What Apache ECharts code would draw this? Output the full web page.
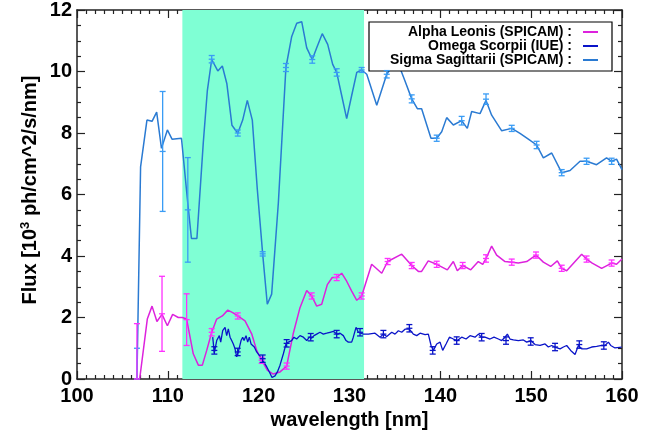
<!DOCTYPE html>
<html>
<head>
<meta charset="utf-8">
<script src="https://cdn.jsdelivr.net/npm/echarts@6/dist/echarts.min.js"></script>
<style>html,body{margin:0;padding:0;background:#fff}#c{width:660px;height:436px}</style>
</head>
<body>
<div id="c"></div>
<script>
// ---- data ----
const seriesNames = ['Alpha Leonis (SPICAM)', 'Omega Scorpii (IUE)', 'Sigma Sagittarii (SPICAM)'];
const xTicks = [100, 110, 120, 130, 140, 150, 160];
const yTicks = [0, 2, 4, 6, 8, 10, 12];
const shadeRange = [111.6, 131.6];

const sigmaWl = [106.6,107.0,107.7,108.26,108.77,109.3,109.95,110.46,111.5,111.6,112.26,112.6,113.2,113.9,114.35,114.83,115.5,116.0,116.5,117.06,117.7,118.24,118.75,119.3,119.85,120.44,120.95,121.43,122.17,123.0,123.64,124.19,124.74,125.29,125.9,126.39,127.0,127.6,128.15,128.59,129.14,129.69,130.24,130.8,131.34,131.9,133.0,134.1,135.2,136.1,136.85,137.47,137.94,138.97,139.6,140.15,140.7,141.43,142.35,142.97,143.45,144.37,145.03,145.65,146.76,147.86,148.77,149.69,150.6,151.34,152.26,153.36,154.28,155.38,156.1,157.2,158.3,158.86,159.4,160.0];
const sigmaFlux = [0,6.9,8.42,8.38,8.68,7.5,8.1,7.8,7.83,7.83,5.53,4.57,4.57,7.67,9.38,10.39,10.02,10.18,9.6,8.25,7.99,8.42,9.06,8.42,6.17,4.07,2.43,2.76,5.74,10.13,11.14,11.57,11.62,10.77,10.39,10.77,11.23,10.88,10.23,9.97,9.22,8.47,9.22,9.97,10.05,9.91,8.9,9.91,10.39,9.7,9.11,8.79,8.79,7.83,7.83,8.04,8.5,8.26,8.4,8.15,8.7,8.63,9.06,8.58,8.07,8.15,7.99,7.8,7.61,7.19,7.35,6.71,6.78,7.08,7.08,6.97,7.19,7.08,7.15,6.81];

const alphaWl = [106.9,107.74,108.26,108.8,109.36,109.95,110.53,111.15,111.6,112.07,112.8,113.36,113.8,114.28,114.83,115.38,116.0,116.6,117.14,117.7,118.5,119.23,119.78,120.33,120.95,121.6,122.35,123.08,123.8,124.55,125.29,125.84,126.39,126.94,127.56,128.1,128.59,129.14,129.69,130.24,130.8,131.34,132.44,133.55,134.2,135.75,136.85,137.58,137.94,138.67,139.6,140.77,141.43,141.87,142.46,143.35,144.18,144.67,145.03,145.65,146.2,147.12,147.86,148.59,149.51,150.53,151.34,152.15,152.88,153.36,153.91,155.56,156.1,156.72,157.76,158.86,159.4,160.0];
const alphaFlux = [0,1.95,2.37,1.87,2.1,1.73,2.1,2.0,2.0,1.95,0.82,0.45,0.45,0.93,1.52,1.95,2.05,2.24,2.16,2.05,1.89,1.47,0.93,0.61,0.29,0.16,0.23,0.42,1.47,2.32,2.88,2.7,2.37,2.43,3.07,3.3,3.3,3.44,3.18,2.86,2.56,2.7,3.73,3.44,3.82,4.06,3.69,3.5,3.5,3.84,3.73,3.55,3.82,3.52,3.69,3.55,3.82,3.73,3.92,4.32,4.03,3.82,3.8,3.77,3.82,4.03,3.8,3.66,3.84,3.6,3.52,4.06,3.9,3.77,3.6,3.77,3.73,3.9];

const omegaWl = [114.94,115.12,115.38,115.67,115.82,116.04,116.3,116.48,116.66,116.85,117.03,117.21,117.4,117.58,117.76,117.95,118.06,118.24,118.39,118.61,118.79,118.97,119.16,119.34,119.52,119.78,120.07,120.33,120.51,120.88,121.18,121.47,121.8,122.06,122.35,122.72,123.01,123.27,123.63,123.89,124.18,124.55,124.92,125.29,125.58,125.84,126.09,126.39,126.75,127.12,127.49,127.85,128.22,128.59,128.96,129.32,129.62,129.87,130.24,130.42,130.72,130.97,131.16,131.53,132.08,132.81,133.36,133.73,134.1,134.65,135.01,135.38,135.75,136.11,136.59,137.03,137.4,137.77,138.32,138.68,138.98,139.23,139.6,139.97,140.26,140.63,141.0,141.44,141.88,142.35,142.83,143.27,143.82,144.19,144.55,144.92,145.47,145.91,146.39,146.76,147.12,147.38,147.67,148.04,148.59,149.14,149.51,149.95,150.43,150.98,151.53,151.89,152.26,152.63,153.18,153.55,153.91,154.35,154.83,155.2,155.56,156.11,156.66,157.21,157.77,158.13,158.5,158.76,159.23,159.96];
const omegaFlux = [1.36,0.85,1.25,1.41,1.2,1.57,1.68,1.41,1.63,1.36,1.25,1.14,0.98,0.72,0.88,0.93,1.25,1.36,1.25,1.41,1.2,1.36,1.14,1.09,1.04,0.88,0.77,0.66,0.61,0.4,0.23,0.05,0.1,0.23,0.45,0.82,1.14,1.2,1.25,1.36,1.3,1.41,1.36,1.25,1.36,1.33,1.41,1.46,1.52,1.46,1.49,1.52,1.55,1.46,1.49,1.41,1.25,1.2,1.2,1.36,1.68,1.52,1.52,1.46,1.46,1.49,1.36,1.46,1.38,1.52,1.46,1.57,1.52,1.62,1.62,1.46,1.41,1.49,1.44,1.46,1.09,0.93,1.14,1.2,0.93,1.14,1.36,1.3,1.25,1.36,1.3,1.41,1.36,1.46,1.36,1.36,1.3,1.36,1.3,1.25,1.36,1.46,1.3,1.27,1.25,1.27,1.2,1.25,1.12,1.09,1.14,1.04,1.09,1.04,0.98,1.04,1.09,0.93,0.8,1.09,0.98,0.98,1.04,1.06,1.09,1.09,1.2,1.09,1.01,1.04];

// error bars: wavelength, value, error
const sigmaErrWl  = [106.6,109.43,112.2,114.83,117.7,120.44,123.0,125.9,128.59,131.34,134.1,136.85,139.6,142.35,145.03,147.86,150.6,153.36,156.1,158.86];
const sigmaErrVal = [0,7.4,5.5,10.4,8.0,4.07,10.13,10.39,9.97,10.05,9.91,9.11,7.83,8.4,9.1,8.15,7.61,6.71,7.08,7.08];
const sigmaErrErr = [1.0,1.95,1.7,0.12,0.1,0.07,0.13,0.12,0.12,0.08,0.12,0.13,0.1,0.14,0.17,0.1,0.12,0.1,0.1,0.1];

const alphaErrWl  = [106.6,109.36,112.07,114.83,117.7,120.33,123.08,125.84,128.59,131.34,134.2,136.85,139.6,142.46,145.03,147.86,150.53,153.36,156.1,158.86];
const alphaErrVal = [0,2.12,1.93,1.52,2.05,0.61,0.42,2.7,3.3,2.7,3.82,3.69,3.73,3.69,3.92,3.8,4.03,3.6,3.9,3.77];
const alphaErrErr = [1.8,1.22,0.84,0.12,0.1,0.1,0.1,0.1,0.1,0.1,0.1,0.1,0.1,0.1,0.12,0.1,0.1,0.1,0.1,0.1];

const omegaErrWl  = [115.12,117.69,120.44,123.08,125.73,128.59,131.16,133.73,136.59,139.16,141.8,144.55,147.23,149.95,152.63,155.3,158.0];
const omegaErrVal = [0.93,0.88,0.66,1.16,1.36,1.46,1.52,1.46,1.65,0.93,1.25,1.36,1.25,1.22,1.04,1.12,1.09];
const omegaErrErr = [0.12,0.12,0.12,0.12,0.12,0.12,0.12,0.12,0.12,0.12,0.12,0.12,0.12,0.12,0.12,0.12,0.12];

// ---- build ----
const zip2 = (a, b) => a.map((v, i) => [v, b[i]]);
const zip3 = (a, b, c) => a.map((v, i) => [v, b[i], c[i]]);
const FONT = "'Liberation Sans', Arial, Helvetica, sans-serif";

function errRender(color) {
  return function (params, api) {
    const x = api.value(0), v = api.value(1), e = api.value(2);
    const lo = Math.max(0, v - e), hi = Math.min(12, v + e);
    const pT = api.coord([x, hi]), pB = api.coord([x, lo]), pM = api.coord([x, v]);
    const w = 3;
    const st = { stroke: color, lineWidth: 1.3 };
    const ch = [
      { type: 'line', shape: { x1: pT[0], y1: pT[1], x2: pB[0], y2: pB[1] }, style: st },
      { type: 'line', shape: { x1: pT[0] - w, y1: pT[1], x2: pT[0] + w, y2: pT[1] }, style: st },
      { type: 'line', shape: { x1: pM[0] - w, y1: pM[1], x2: pM[0] + w, y2: pM[1] }, style: st }
    ];
    if (v - e >= 0) ch.push({ type: 'line', shape: { x1: pB[0] - w, y1: pB[1], x2: pB[0] + w, y2: pB[1] }, style: st });
    return { type: 'group', children: ch };
  };
}

const axisLineStyle = { color: '#222', width: 1.5 };
const labelStyle = { fontSize: 20, fontWeight: 'bold', color: '#000', fontFamily: FONT };

function xAx(pos, show) {
  return {
    type: 'value', min: xTicks[0], max: xTicks[xTicks.length - 1], interval: 10, position: pos,
    axisLine: { show: true, onZero: false, lineStyle: axisLineStyle },
    axisTick: { show: true, inside: true, length: 8, lineStyle: { color: '#222', width: 1.2 } },
    minorTick: { show: true, splitNumber: 10, length: 4, lineStyle: { color: '#222', width: 1.2 } },
    axisLabel: Object.assign({ show: show, margin: 7 }, labelStyle),
    splitLine: { show: false }, minorSplitLine: { show: false }
  };
}
function yAx(pos, show) {
  return {
    type: 'value', min: yTicks[0], max: yTicks[yTicks.length - 1], interval: 2, position: pos,
    axisLine: { show: true, onZero: false, lineStyle: axisLineStyle },
    axisTick: { show: true, inside: true, length: 8, lineStyle: { color: '#222', width: 1.2 } },
    minorTick: { show: true, splitNumber: 4, length: 4, lineStyle: { color: '#222', width: 1.2 } },
    axisLabel: Object.assign({ show: show, margin: 5 }, labelStyle),
    splitLine: { show: false }, minorSplitLine: { show: false }
  };
}

const xa0 = xAx('bottom', true);
xa0.name = 'wavelength [nm]';
xa0.nameLocation = 'middle';
xa0.nameGap = 26;
xa0.nameTextStyle = { fontSize: 20, fontWeight: 'bold', color: '#000', fontFamily: FONT };

const colAlpha = '#dd22dd', colOmega = '#0a14c8', colSigma = '#2a7ad2';

const option = {
  animation: false,
  backgroundColor: '#fff',
  grid: { left: 77, right: 38, top: 5, bottom: 57 },
  xAxis: [xa0, xAx('top', false)],
  yAxis: [yAx('left', true), yAx('right', false)],
  legend: {
    data: seriesNames,
    orient: 'vertical', align: 'right',
    left: 369, top: 22,
    padding: [3, 14, 4, 5], itemGap: 0,
    backgroundColor: '#fff', borderColor: '#000', borderWidth: 1.2,
    icon: 'rect', itemWidth: 15, itemHeight: 2,
    selectedMode: false,
    formatter: n => '{a|' + n + ' :}',
    textStyle: {
      rich: { a: { width: 198, align: 'right', fontSize: 14, fontWeight: 'bold', fontFamily: FONT, color: '#000', lineHeight: 15, padding: [0, 6, 0, 0] } }
    }
  },
  graphic: [{
    type: 'text', x: 30, y: 190, rotation: Math.PI / 2, z: 10,
    style: {
      text: '{a|Flux [10}{s|3}{a| ph/cm^2/s/nm]}',
      align: 'center', verticalAlign: 'middle', textAlign: 'center', textVerticalAlign: 'middle',
      fill: '#000',
      rich: {
        a: { fontSize: 20, fontWeight: 'bold', fontFamily: FONT, fill: '#000', color: '#000' },
        s: { fontSize: 13, fontWeight: 'bold', fontFamily: FONT, fill: '#000', color: '#000', padding: [0, 0, 9, 0] }
      }
    }
  }],
  series: [
    {
      name: 'bg', type: 'line', data: [], z: 0, silent: true,
      markArea: { silent: true, itemStyle: { color: '#7fffd4', opacity: 1 }, data: [[{ xAxis: shadeRange[0] }, { xAxis: shadeRange[1] }]] }
    },
    { name: seriesNames[2], type: 'line', data: zip2(sigmaWl, sigmaFlux), showSymbol: false, color: colSigma, lineStyle: { width: 1.5, color: colSigma }, z: 3 },
    { name: seriesNames[0], type: 'line', data: zip2(alphaWl, alphaFlux), showSymbol: false, color: colAlpha, lineStyle: { width: 1.5, color: colAlpha }, z: 3 },
    { name: seriesNames[1], type: 'line', data: zip2(omegaWl, omegaFlux), showSymbol: false, color: colOmega, lineStyle: { width: 1.3, color: colOmega }, z: 4 },
    { name: 'sigmaErr', type: 'custom', data: zip3(sigmaErrWl, sigmaErrVal, sigmaErrErr), renderItem: errRender('#3a9cf5'), z: 5, silent: true },
    { name: 'alphaErr', type: 'custom', data: zip3(alphaErrWl, alphaErrVal, alphaErrErr), renderItem: errRender('#ff30ff'), z: 5, silent: true },
    { name: 'omegaErr', type: 'custom', data: zip3(omegaErrWl, omegaErrVal, omegaErrErr), renderItem: errRender(colOmega), z: 5, silent: true }
  ]
};

const chart = echarts.init(document.getElementById('c'), null, { renderer: 'canvas' });
chart.setOption(option);
</script>
</body>
</html>
